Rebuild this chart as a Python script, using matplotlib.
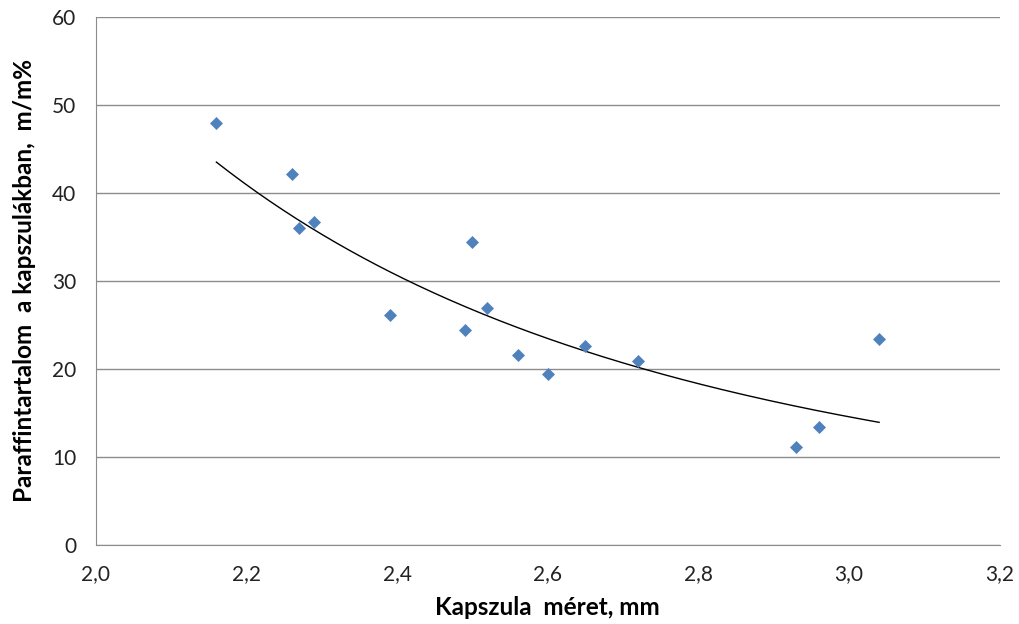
import numpy as np
import matplotlib
matplotlib.use("Agg")
import matplotlib.pyplot as plt

plt.rcParams['font.family'] = ['Lato', 'DejaVu Sans']

size_mm = [2.16, 2.26, 2.27, 2.29, 2.39, 2.49, 2.50, 2.52, 2.56, 2.60, 2.65, 2.72, 2.93, 2.96, 3.04]
paraffin = [48.0, 42.2, 36.0, 36.7, 26.1, 24.4, 34.4, 26.9, 21.6, 19.4, 22.6, 20.9, 11.1, 13.4, 23.4]
x_ticks = [2.0, 2.2, 2.4, 2.6, 2.8, 3.0, 3.2]
y_ticks = [0, 10, 20, 30, 40, 50, 60]

fig = plt.figure(figsize=(10.2, 6.24), dpi=100)
ax = fig.add_axes([0.094, 0.1266, 0.886, 0.8462])

ax.scatter(size_mm, paraffin, marker='D', s=44, color='#4F81BD', zorder=3, linewidths=0)

# power trendline fitted to the data
xs = np.array(size_mm)
ys = np.array(paraffin)
b, lna = np.polyfit(np.log(xs), np.log(ys), 1)
xt = np.linspace(xs.min(), xs.max(), 200)
ax.plot(xt, np.exp(lna) * xt ** b, color='black', lw=1.0, zorder=2)

ax.set_xlim(2.0, 3.2)
ax.set_ylim(0, 60)
ax.set_xticks(x_ticks)
ax.set_xticklabels([f"{v:.1f}".replace('.', ',') for v in x_ticks])
ax.set_yticks(y_ticks)
ax.yaxis.grid(True, color='#8c8c8c', lw=1)
ax.set_axisbelow(True)
for s in ['top', 'right']:
    ax.spines[s].set_visible(False)
ax.spines['left'].set_color('#8c8c8c')
ax.spines['bottom'].set_color('#8c8c8c')
ax.tick_params(axis='x', length=0, labelsize=15, colors='#222222', pad=14)
ax.tick_params(axis='y', length=0, labelsize=15, colors='#222222', pad=14)
ax.set_xlabel("Kapszula  méret, mm", fontsize=17.5, fontweight='bold', labelpad=8)
ax.set_ylabel("Paraffintartalom  a kapszulákban,  m/m%", fontsize=17.5, fontweight='bold', labelpad=12)

fig.savefig("out.png", dpi=100)
